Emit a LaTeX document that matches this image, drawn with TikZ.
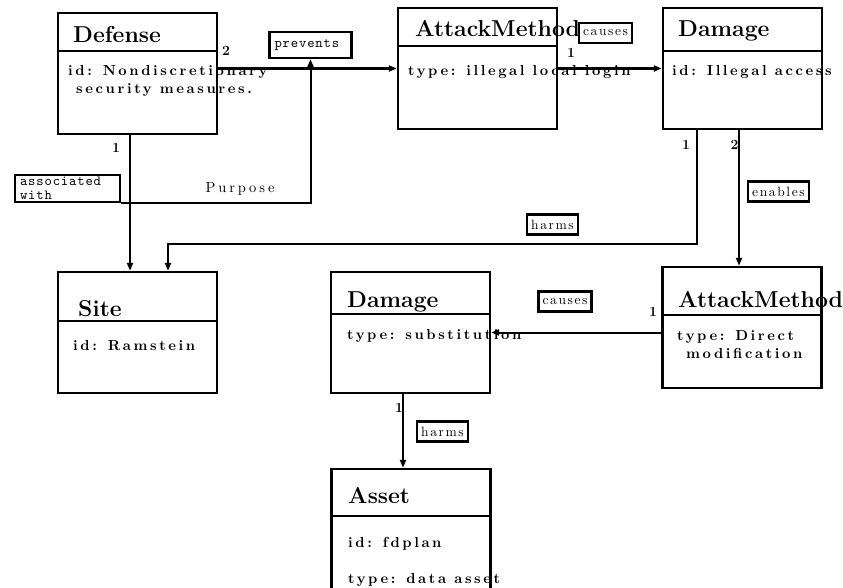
\documentclass[tikz,border=0pt]{standalone}
\usepackage{fontspec}
\newfontfamily\bodyrm{lmroman10}[Extension=.otf,UprightFont=*-regular,BoldFont=*-bold,LetterSpace=18]
\newfontfamily\labelrm{lmroman10}[Extension=.otf,UprightFont=*-regular,BoldFont=*-bold,LetterSpace=12]
\newfontfamily\rolerm{lmroman10}[Extension=.otf,UprightFont=*-regular,BoldFont=*-bold,LetterSpace=20]
\newfontfamily\labeltt{lmmono10}[Extension=.otf,UprightFont=*-regular,LetterSpace=6]
\usetikzlibrary{arrows.meta}

\tikzset{
    classbox/.style={draw, line width=2.4pt, minimum width=159pt, minimum height=121pt, inner sep=0pt},
    divider/.style={line width=1.8pt},
    classname/.style={anchor=base west, inner sep=0pt, font=\fontsize{23}{27}\selectfont\bfseries},
    attr/.style={anchor=base west, inner sep=0pt, font=\bodyrm\fontsize{14.5}{17}\selectfont\bfseries},
    relbox/.style={draw, line width=2.2pt, inner xsep=4pt, inner ysep=1pt, minimum height=20pt, font=\labelrm\fontsize{13.5}{15}\selectfont},
    ttbox/.style={draw, line width=2.2pt, inner xsep=5pt, inner ysep=2.5pt, align=left, font=\labeltt\fontsize{14}{14}\selectfont},
    mult/.style={inner sep=0pt, font=\fontsize{14}{16}\selectfont\bfseries},
    rolename/.style={anchor=base, inner sep=0pt, font=\rolerm\fontsize{14.5}{16}\selectfont},
    conn/.style={line width=2.6pt, -{Triangle[length=8pt,width=6pt]}},
    thinconn/.style={line width=2pt, -{Triangle[length=8pt,width=6pt]}}
}

\begin{document}
\begin{tikzpicture}[x=1pt,y=-1pt]

% Page
\useasboundingbox (0,0) rectangle (843,588);

% Classes
\node[classbox] (def) at (137.5,73.5) {};
\node[classbox] (am1) at (477.5,68.5) {};
\node[classbox] (dmg1) at (742.5,68.5) {};
\node[classbox] (site) at (137.5,332.5) {};
\node[classbox] (dmg2) at (410.5,332.5) {};
\node[classbox] (am2) at (742,327.5) {};
\node[classbox] (asset) at (411,529.5) {};

% Header lines
\draw[divider] ([yshift=-39pt]def.north west) -- ([yshift=-39pt]def.north east);
\draw[divider] ([yshift=-39pt]am1.north west) -- ([yshift=-39pt]am1.north east);
\draw[divider] ([yshift=-44pt]dmg1.north west) -- ([yshift=-44pt]dmg1.north east);
\draw[divider] ([yshift=-50pt]site.north west) -- ([yshift=-50pt]site.north east);
\draw[divider] ([yshift=-43pt]dmg2.north west) -- ([yshift=-43pt]dmg2.north east);
\draw[divider] ([yshift=-49pt]am2.north west) -- ([yshift=-49pt]am2.north east);
\draw[divider] ([yshift=-48pt]asset.north west) -- ([yshift=-48pt]asset.north east);

% Class names
\node[classname] (deftitle) at (73,43) {Defense};
\node[classname] (am1title) at (415,37) {AttackMethod};
\node[classname] (dmg1title) at (678,37) {Damage};
\node[classname] (sitetitle) at (78,316) {Site};
\node[classname] (dmg2title) at (347,307) {Damage};
\node[classname] (am2title) at (678,307) {AttackMethod};
\node[classname] (assettitle) at (348,503) {Asset};

% Attributes
\node[attr] (defid) at (68,76) {id: Nondiscretionary};
\node[attr] (defid2) at (76,94) {security measures.};
\node[attr] (am1type) at (408,76) {type: illegal local login};
\node[attr] (dmg1id) at (672,76) {id: Illegal access};
\node[attr] (siteid) at (73,350) {id: Ramstein};
\node[attr] (dmg2type) at (347,339) {type: substitution};
\node[attr] (am2type) at (677,340) {type: Direct};
\node[attr] (am2type2) at (686,358) {modification};
\node[attr] (assetid) at (348,547) {id: fdplan};
\node[attr] (assettype) at (348,583) {type: data asset};

% Multiplicities
\node[mult] (defm2) at (226,51) {2};
\node[mult] (defm1) at (116,147.5) {1};
\node[mult] (am1m1) at (571,52.5) {1};
\node[mult] (dmg1m1) at (686,145) {1};
\node[mult] (dmg1m2) at (734.5,145) {2};
\node[mult] (am2m1) at (653,312) {1};
\node[mult] (dmg2m1) at (399,408) {1};

% Relation labels
\node[ttbox, text width=72pt, minimum height=26pt] (prevents) at (310.5,45) {prevents};
\node[ttbox, text width=95pt] (assoc) at (67.5,188.5) {associated\\with};
\node[relbox] (causes1) at (605.5,33) {causes};
\node[relbox] (enables) at (778.5,191.5) {enables};
\node[relbox] (harms1) at (552.5,224.5) {harms};
\node[relbox] (causes2) at (565,301.5) {causes};
\node[relbox] (harms2) at (442.5,431.5) {harms};
\node[rolename] (purpose) at (240,193) {Purpose};

% Connectors
\draw[conn] (am1.west -| def.east) -- (am1.west);
\draw[conn] (am1.east) -- (dmg1.west);
\draw[thinconn] ([xshift=-7.5pt]def.south) -- ([xshift=-7.5pt]site.north);
\draw[thinconn] (assoc.south east) -| (prevents.south);
\coordinate (harmsout) at ([xshift=-45.5pt]dmg1.south);
\draw[thinconn] (harmsout) -- ++(0,114) -| ([xshift=30.5pt]site.north);
\draw[conn] ([xshift=-3.5pt]dmg1.south) -- ([xshift=-3pt]am2.north);
\draw[thinconn] (dmg2.east -| am2.west) -- (dmg2.east);
\draw[conn] ([xshift=-7.5pt]dmg2.south) -- ([xshift=-8pt]asset.north);

\end{tikzpicture}
\end{document}
